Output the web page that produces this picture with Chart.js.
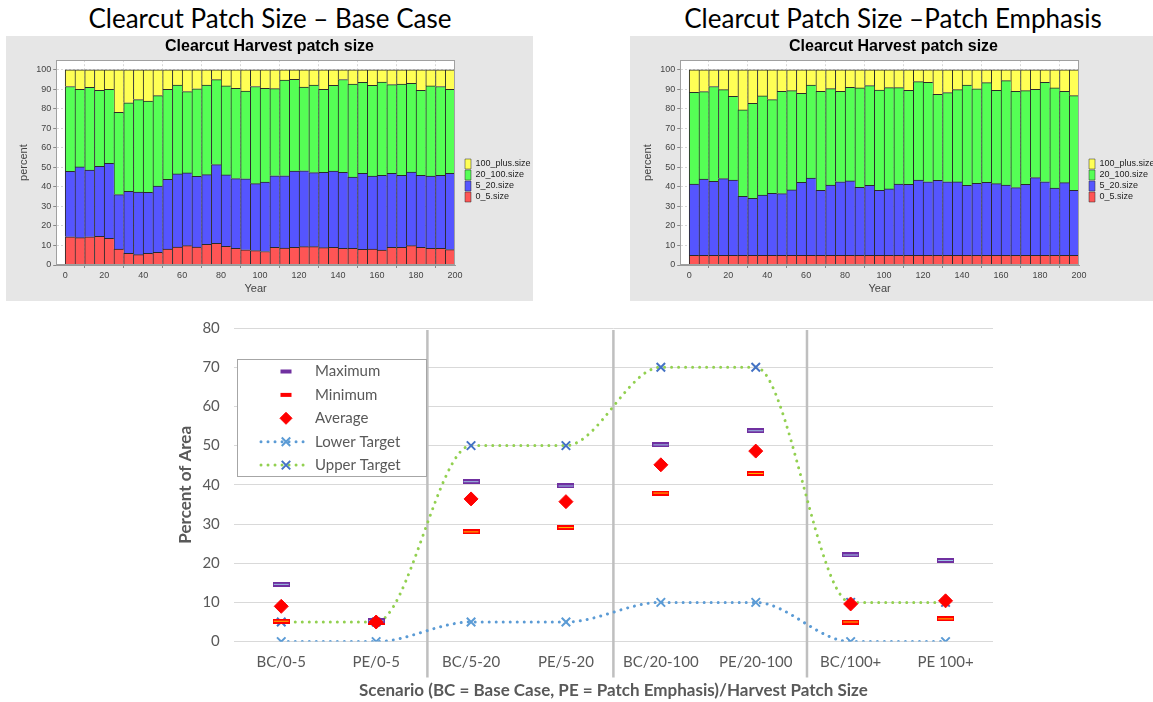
<!DOCTYPE html>
<html><head><meta charset="utf-8">
<script src="https://cdn.jsdelivr.net/npm/chart.js@4/dist/chart.umd.min.js"></script>
<style>
html,body{margin:0;padding:0;background:#fff;overflow:hidden;width:1153px;height:702px;position:relative;}
.t{position:absolute;font-family:Lato,sans-serif;font-size:26px;line-height:30px;color:#000;white-space:nowrap;transform:translateX(-50%);}
.panel{position:absolute;background:#E6E6E6;}
canvas{display:block}
</style></head><body>
<div class="t" style="left:270px;top:3px">Clearcut Patch Size – Base Case</div>
<div class="t" style="left:893px;top:3px">Clearcut Patch Size –Patch Emphasis</div>
<div class="panel" style="left:6px;top:36px;width:527px;height:265px"><canvas id="c1" width="527" height="265"></canvas></div>
<div class="panel" style="left:630px;top:36px;width:527px;height:265px"><canvas id="c2" width="527" height="265"></canvas></div>
<div style="position:absolute;left:160px;top:310px;width:850px;height:392px"><canvas id="c3" width="850" height="392"></canvas></div>
<script>
// ---------- data: top panels ----------
const years = [2.5,7.5,12.5,17.5,22.5,27.5,32.5,37.5,42.5,47.5,52.5,57.5,62.5,67.5,72.5,77.5,82.5,87.5,92.5,97.5,
  102.5,107.5,112.5,117.5,122.5,127.5,132.5,137.5,142.5,147.5,152.5,157.5,162.5,167.5,172.5,177.5,182.5,187.5,192.5,197.5];
const sizeClasses = ['0_5.size','5_20.size','20_100.size','100_plus.size'];
const panelTitle = 'Clearcut Harvest patch size';

const baseRed = [14.5,14.0,14.5,14.7,13.7,8.2,6.0,5.3,6.0,6.5,8.2,9.2,9.9,9.2,10.6,11.1,9.6,8.5,7.8,7.4,
  6.9,9.1,8.7,9.1,9.4,9.4,8.9,9.1,8.5,8.6,8.0,8.2,7.7,9.1,9.1,9.9,9.1,8.5,8.5,7.9];
const baseBlue = [33.5,36.3,34.2,35.9,38.4,27.9,31.8,32.1,31.3,34.0,35.7,37.5,37.3,36.3,35.7,40.4,36.6,35.8,36.4,34.3,
  35.6,36.6,37.0,39.1,38.9,38.0,38.6,39.1,39.0,36.5,39.0,37.4,38.3,37.9,36.9,37.8,36.9,37.1,37.5,39.1];
const baseGreen = [43.5,39.8,42.4,39.0,38.0,42.2,45.4,47.4,46.8,46.3,46.2,45.6,41.7,44.8,46.0,43.5,45.6,46.3,45.0,49.8,
  48.1,44.7,49.1,47.0,42.9,44.9,42.6,43.9,47.6,47.7,46.7,46.5,47.8,45.5,46.8,45.5,43.6,46.2,45.5,43.1];
const baseYellow = [8.5,9.9,8.9,10.4,9.9,21.7,16.8,15.2,15.9,13.2,9.9,7.7,11.1,9.7,7.7,5.0,8.2,9.4,10.8,8.5,
  9.4,9.6,5.2,4.8,8.8,7.7,9.9,7.9,4.9,7.2,6.3,7.9,6.2,7.5,7.2,6.8,10.4,8.2,8.5,9.9];

const peRed = [5.0,5.0,5.0,5.0,5.0,5.0,5.0,5.0,5.0,5.0,5.0,5.0,5.0,5.0,5.0,5.0,5.0,5.0,5.0,5.0,
  5.0,5.0,5.0,5.0,5.0,5.0,5.0,5.0,5.0,5.0,5.0,5.0,5.0,5.0,5.0,5.0,5.0,5.0,5.0,5.0];
const peBlue = [36.5,39.1,37.9,39.3,38.6,30.2,29.2,30.9,31.8,31.6,33.5,37.4,39.6,33.3,36.0,37.7,38.1,34.8,35.9,33.3,
  34.0,36.5,36.4,38.6,37.7,38.4,37.7,37.6,35.9,36.9,37.4,36.7,36.0,34.7,36.4,39.8,37.7,34.5,37.2,33.3];
const peGreen = [47.0,44.8,48.6,45.6,42.9,44.3,48.7,50.8,48.0,52.5,50.9,45.6,47.7,50.8,49.4,46.4,48.0,51.0,51.1,51.4,
  51.9,49.4,48.2,50.4,51.0,44.1,45.7,47.3,51.4,48.4,51.1,47.9,53.5,49.4,48.0,45.3,51.0,51.3,46.9,48.5];
const peYellow = [11.5,11.1,8.5,10.1,13.5,20.5,17.1,13.3,15.2,10.9,10.6,12.0,7.7,10.9,9.6,10.9,8.9,9.2,8.0,10.3,
  9.1,9.1,10.4,6.0,6.3,12.5,11.6,10.1,7.7,9.7,6.5,10.4,5.5,10.9,10.6,9.9,6.3,9.2,10.9,13.2];

// ---------- data: bottom chart ----------
const scenarios = ['BC/0-5','PE/0-5','BC/5-20','PE/5-20','BC/20-100','PE/20-100','BC/100+','PE 100+'];
const maximum = [14.6, 5.3, 40.8, 39.7, 50.2, 53.8, 22.1, 20.7];
const minimum = [5.2, 5.0, 28.0, 29.1, 37.9, 42.9, 5.0, 5.8];
const average = [9.0, 5.0, 36.4, 35.7, 45.1, 48.6, 9.6, 10.4];
const lowerTarget = [0, 0, 5, 5, 10, 10, 0, 0];
const upperTarget = [5, 5, 50, 50, 70, 70, 10, 10];

// ---------- top panels ----------
const segColors = ['#FF5555','#5555FF','#55FF55','#FFFF55'];
const plotFrame = {
  id:'plotFrame',
  beforeDraw(c){const {ctx,chartArea:a}=c; ctx.save(); ctx.fillStyle='#fff'; ctx.fillRect(a.left,a.top,a.width,a.height); ctx.restore();},
  afterDraw(c){const {ctx,chartArea:a}=c; ctx.save(); ctx.strokeStyle='#A0A0A0'; ctx.lineWidth=1;
    ctx.strokeRect(Math.round(a.left)+0.5,Math.round(a.top)+0.5,Math.round(a.width)-1,Math.round(a.height)-1); ctx.restore();}
};
function makePanel(id, series){
  const datasets = series.map((vals,i)=>({
    label: sizeClasses[i],
    data: vals.map((v,j)=>({x:years[j], y:v})),
    backgroundColor: segColors[i],
    borderColor: '#2a2a2a',
    borderWidth: {top:1,left:1,right:0,bottom:0},
    borderSkipped: false,
    barPercentage: 1, categoryPercentage: 1
  }));
  return new Chart(document.getElementById(id), {
    type:'bar',
    data:{datasets},
    plugins:[plotFrame],
    options:{
      responsive:false, animation:false, devicePixelRatio:1,
      layout:{padding:{left:0,right:0,top:0,bottom:0}},
      plugins:{
        tooltip:{enabled:false},
        title:{display:true,text:panelTitle,color:'#000',font:{family:'Liberation Sans',size:16,weight:'bold'},padding:{top:1,bottom:4}},
        legend:{position:'right',reverse:true,maxWidth:69,
          title:{display:true,text:' ',font:{size:10},padding:{top:6,bottom:6}},
          labels:{boxWidth:6,boxHeight:10,padding:1,color:'#222',font:{family:'Liberation Sans',size:9}}}
      },
      scales:{
        x:{type:'linear',stacked:true,offset:false,min:-4.6,max:200,
          afterBuildTicks(s){s.ticks=s.ticks.filter(t=>t.value>=0 && Math.abs(t.value%20)<1e-6);},
          ticks:{stepSize:20,includeBounds:false,color:'#444',font:{family:'Liberation Sans',size:9},padding:2,maxRotation:0},
          grid:{color:'#d6d6d6',tickColor:'#888',tickLength:3},
          border:{color:'#999',dash:[2,2]},
          title:{display:true,text:'Year',color:'#444',font:{family:'Liberation Sans',size:11},padding:{top:0,bottom:5}}},
        y:{stacked:true,min:0,max:105,
          afterBuildTicks(s){s.ticks=s.ticks.filter(t=>Math.abs(t.value%10)<1e-6 && t.value<=100);},
          ticks:{stepSize:10,includeBounds:false,color:'#444',font:{family:'Liberation Sans',size:9},padding:2},
          grid:{color:'#d6d6d6',tickColor:'#888',tickLength:3},
          border:{color:'#999',dash:[2,2]},
          title:{display:true,text:'percent',color:'#444',font:{family:'Liberation Sans',size:11},padding:{top:11,bottom:4}}},
        gap:{type:'linear',position:'right',display:true,grid:{display:false},ticks:{display:false},border:{display:false},
          afterFit(s){s.width=9;}}
      }
    }
  });
}
makePanel('c1',[baseRed,baseBlue,baseGreen,baseYellow]);
makePanel('c2',[peRed,peBlue,peGreen,peYellow]);

// ---------- bottom chart ----------
function dashImg(w,h,fill,inner){
  const c=document.createElement('canvas'); c.width=w; c.height=h;
  const x=c.getContext('2d'); x.fillStyle=fill; x.fillRect(0,0,w,h);
  x.fillStyle=inner; x.fillRect(1,Math.floor(h/2),w-2,1); return c;
}
const maxImg = dashImg(17,5,'#7030A0','#9DC3E6');
const minImg = dashImg(17,5,'#FF0000','#FFC000');
const FONT = 'Lato, "Open Sans", sans-serif';
const TXT = '#595959';

const separators = {
  id:'separators',
  beforeDatasetsDraw(chart){
    const {ctx,chartArea:a}=chart, xs=chart.scales.x;
    ctx.save(); ctx.strokeStyle='#BFBFBF'; ctx.lineWidth=2.5;
    [1.54,3.5,5.54].forEach(v=>{const px=xs.getPixelForValue(v); ctx.beginPath(); ctx.moveTo(px,a.top+2); ctx.lineTo(px,a.bottom+36); ctx.stroke();});
    ctx.restore();
  }
};
const boxLegend = {
  id:'boxLegend',
  afterDatasetsDraw(chart){
    const {ctx,chartArea:a}=chart;
    const bx=Math.round(a.left+3), by=Math.round(a.top+31), bw=189, bh=117;
    ctx.save();
    ctx.fillStyle='#fff'; ctx.fillRect(bx,by,bw,bh);
    ctx.strokeStyle='#A6A6A6'; ctx.lineWidth=1; ctx.strokeRect(bx+0.5,by+0.5,bw,bh);
    chart.data.datasets.forEach((ds,i)=>{
      const y=by+12.5+i*23.4, mx=bx+49;
      if(ds.showLine!==false){
        ctx.save(); ctx.strokeStyle=ds.borderColor; ctx.lineWidth=3; ctx.lineCap='round'; ctx.setLineDash([0.01,7]);
        ctx.beginPath(); ctx.moveTo(mx-25,y); ctx.lineTo(mx+21,y); ctx.stroke(); ctx.restore();
        ctx.strokeStyle=ds.pointBorderColor; ctx.lineWidth=2;
        Chart.helpers.drawPoint(ctx,{pointStyle:'crossRot',radius:6,rotation:0,borderWidth:2},mx,y);
      } else if(ds.pointStyle==='rectRot'){
        ctx.fillStyle=ds.pointBackgroundColor; ctx.strokeStyle=ds.pointBackgroundColor; ctx.lineWidth=1;
        Chart.helpers.drawPoint(ctx,{pointStyle:'rectRot',radius:6,rotation:0,borderWidth:1},mx,y);
      } else {
        ctx.fillStyle=ds.legendColor; ctx.fillRect(mx-5.5,y-2,11,4);
      }
      ctx.fillStyle=TXT; ctx.font='15px '+FONT; ctx.textBaseline='middle'; ctx.textAlign='left';
      ctx.fillText(ds.label,bx+78,y);
    });
    ctx.restore();
  }
};

new Chart(document.getElementById('c3'), {
  type:'line',
  data:{
    labels: scenarios,
    datasets:[
      {label:'Maximum',data:maximum,showLine:false,pointStyle:maxImg,legendColor:'#7030A0',order:1},
      {label:'Minimum',data:minimum,showLine:false,pointStyle:minImg,legendColor:'#FF0000',order:2},
      {label:'Average',data:average,showLine:false,pointStyle:'rectRot',pointRadius:7,
        pointBackgroundColor:'#FF0000',pointBorderColor:'#FF0000',pointBorderWidth:1,order:0},
      {label:'Lower Target',data:lowerTarget,borderColor:'#5B9BD5',borderWidth:3,borderDash:[0.01,7],borderCapStyle:'round',
        cubicInterpolationMode:'monotone',pointStyle:'crossRot',pointRadius:6,pointBorderColor:'#5B9BD5',pointBorderWidth:2,
        pointBackgroundColor:'#5B9BD5',fill:false,order:3},
      {label:'Upper Target',data:upperTarget,borderColor:'#92D050',borderWidth:3,borderDash:[0.01,7],borderCapStyle:'round',
        cubicInterpolationMode:'monotone',pointStyle:'crossRot',pointRadius:6,pointBorderColor:'#4472C4',pointBorderWidth:2,
        pointBackgroundColor:'#4472C4',fill:false,order:4}
    ]
  },
  plugins:[separators,boxLegend],
  options:{
    responsive:false, animation:false, devicePixelRatio:1,
    layout:{padding:{left:0,right:17,top:13,bottom:0}},
    plugins:{legend:{display:false},tooltip:{enabled:false}},
    scales:{
      x:{offset:true,grid:{display:false,drawTicks:false},border:{display:false},
        ticks:{color:TXT,font:{family:FONT,size:15},padding:12,maxRotation:0,autoSkip:false},
        title:{display:true,text:'Scenario (BC = Base Case, PE = Patch Emphasis)/Harvest Patch Size',color:TXT,
          font:{family:FONT,size:17,weight:'bold'},padding:{top:-3,bottom:1}}},
      y:{min:0,max:80,
        ticks:{stepSize:10,color:TXT,font:{family:FONT,size:15},padding:9},
        grid:{color:'#D9D9D9',drawTicks:true,tickLength:5,tickColor:'rgba(0,0,0,0)',lineWidth:1},border:{display:false},
        title:{display:true,text:'Percent of Area',color:TXT,font:{family:FONT,size:17,weight:'bold'},padding:{top:15,bottom:-2}}}
    }
  }
});
</script>
</body></html>
